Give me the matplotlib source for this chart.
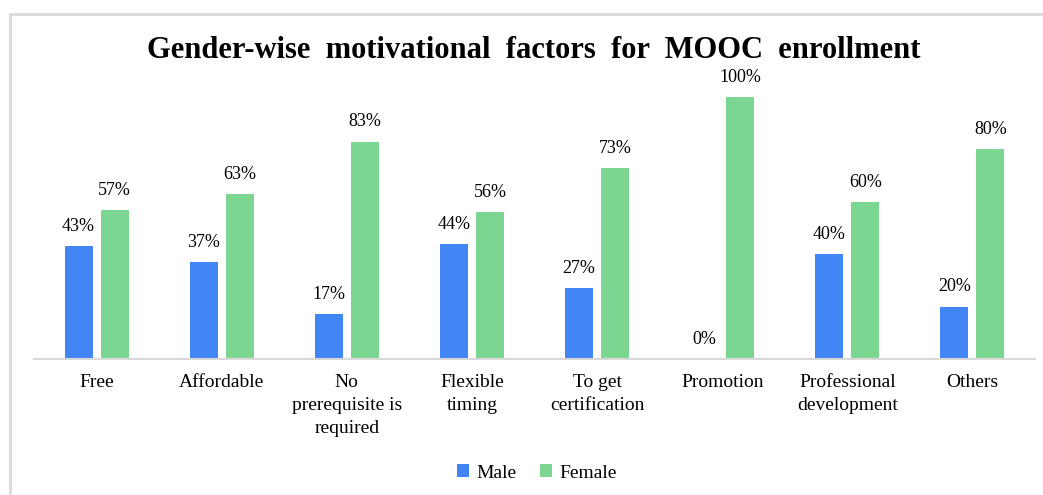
import matplotlib.pyplot as plt
import matplotlib.patches as mpatches
import numpy as np

plt.rcParams['font.family'] = ['Liberation Serif', 'DejaVu Serif']

categories = ["Free", "Affordable", "No\nprerequisite is\nrequired", "Flexible\ntiming",
              "To get\ncertification", "Promotion", "Professional\ndevelopment", "Others"]
male = [43, 37, 17, 44, 27, 0, 40, 20]
female = [57, 63, 83, 56, 73, 100, 60, 80]

blue = "#4285F4"
green = "#7BD692"

fig = plt.figure(figsize=(10.43, 4.95), dpi=100)
ax = fig.add_axes([34/1043, 1-359/495, (1035-34)/1043, (359-97)/495])

x = np.arange(len(categories))
w = 0.224
off = 0.144
b1 = ax.bar(x - off, male, w, color=blue, label="Male")
b2 = ax.bar(x + off, female, w, color=green, label="Female")

for bars, vals in ((b1, male), (b2, female)):
    for b, v in zip(bars, vals):
        ax.annotate(f"{v}%", (b.get_x() + b.get_width()/2, v), xytext=(0, 8),
                    textcoords="offset points", ha="center", va="bottom", fontsize=13)

ax.set_xlim(-0.5, len(categories) - 0.5)
ax.set_ylim(0, 100)
ax.set_xticks(x)
ax.set_xticklabels(categories, fontsize=14, linespacing=1.45, va="top")
ax.tick_params(axis="x", length=0, pad=11)
ax.set_yticks([])
for s in ("top", "right", "left"):
    ax.spines[s].set_visible(False)
ax.spines["bottom"].set_color("#D9D9D9")
ax.spines["bottom"].set_linewidth(1.5)

fig.text(534/1043, 1-50/495, "Gender-wise  motivational  factors  for  MOOC  enrollment",
         ha="center", va="center", fontsize=22, fontweight="bold")

fig.legend(handles=[b1, b2], labels=["Male", "Female"], loc="center",
           bbox_to_anchor=(537/1043, 1-473/495), ncol=2, frameon=False, fontsize=14,
           handlelength=0.6, handleheight=0.6, handletextpad=0.4, columnspacing=1.2)

# outer chart border (left and top visible, rest cut off)
fig.add_artist(mpatches.Rectangle((10/1043, -0.1), 1.2, 1 - 14/495 + 0.1,
                                  transform=fig.transFigure, fill=False,
                                  edgecolor="#D9D9D9", linewidth=2))

fig.savefig("out.png", dpi=100)
